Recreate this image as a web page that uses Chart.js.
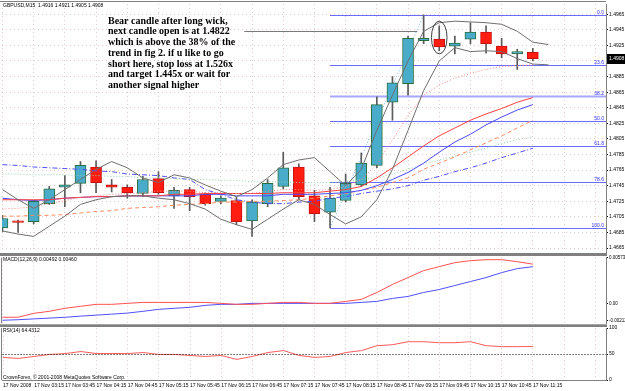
<!DOCTYPE html>
<html>
<head>
<meta charset="utf-8">
<script src="https://cdn.jsdelivr.net/npm/chart.js@4.4.0/dist/chart.umd.min.js"></script>
<style>
  html, body { margin: 0; padding: 0; background: #fff; }
  #wrap { position: relative; width: 625px; height: 391px; overflow: hidden; background: #fff; }
  #wrap canvas { position: absolute; left: 0; }
</style>
</head>
<body>
<div id="wrap">
  <canvas id="main" width="625" height="256" style="top:0"></canvas>
  <canvas id="macd" width="625" height="73" style="top:254px"></canvas>
  <canvas id="rsi" width="625" height="67" style="top:324px"></canvas>
</div>
<script>
// GBPUSD M15, 17 Nov 2008, bars 02:45 .. 11:15
const timeLabels = ['17 Nov 2008', '17 Nov 03:15', '17 Nov 03:45', '17 Nov 04:15', '17 Nov 04:45', '17 Nov 05:15',
  '17 Nov 05:45', '17 Nov 06:15', '17 Nov 06:45', '17 Nov 07:15', '17 Nov 07:45', '17 Nov 08:15', '17 Nov 08:45',
  '17 Nov 09:15', '17 Nov 09:45', '17 Nov 10:15', '17 Nov 10:45', '17 Nov 11:15'];

const opens  = [1.4691, 1.4700, 1.4699, 1.4722, 1.4743, 1.4748, 1.4769, 1.4746, 1.4743, 1.4735, 1.4754, 1.4732,
  1.4740, 1.4734, 1.4725, 1.4726, 1.4700, 1.4722, 1.4744, 1.4769, 1.4732, 1.4711, 1.4726, 1.4746, 1.4771, 1.4852,
  1.4876, 1.4931, 1.4933, 1.4924, 1.4933, 1.4942, 1.4924, 1.4914, 1.4916];
const highs  = [1.4707, 1.4701, 1.4726, 1.4744, 1.4758, 1.4776, 1.4777, 1.4753, 1.4746, 1.4757, 1.4763, 1.4743,
  1.4743, 1.4736, 1.4732, 1.4730, 1.4727, 1.4753, 1.4788, 1.4773, 1.4739, 1.4743, 1.4760, 1.4787, 1.4859, 1.4885,
  1.4937, 1.4964, 1.4950, 1.4937, 1.4954, 1.4950, 1.4934, 1.4920, 1.4921];
const lows   = [1.4686, 1.4685, 1.4696, 1.4721, 1.4718, 1.4736, 1.4736, 1.4737, 1.4729, 1.4731, 1.4734, 1.4716,
  1.4713, 1.4720, 1.4722, 1.4695, 1.4680, 1.4718, 1.4741, 1.4727, 1.4699, 1.4691, 1.4724, 1.4744, 1.4768, 1.4829,
  1.4861, 1.4927, 1.4918, 1.4914, 1.4927, 1.4915, 1.4909, 1.4894, 1.4905];
const closes = [1.4703, 1.4698, 1.4725, 1.4741, 1.4746, 1.4771, 1.4749, 1.4743, 1.4736, 1.4753, 1.4736, 1.4739,
  1.4731, 1.4722, 1.4729, 1.4699, 1.4724, 1.4748, 1.4768, 1.4731, 1.4709, 1.4729, 1.4748, 1.4774, 1.4849, 1.4877,
  1.4934, 1.4934, 1.4923, 1.4928, 1.4942, 1.4927, 1.4914, 1.4917, 1.4908];

// moving averages on the price panel
const maRedDotted = [1.4715, 1.4716, 1.4718, 1.4722, 1.4726, 1.4730, 1.4732, 1.4734, 1.4735, 1.4736, 1.4738, 1.4738,
  1.4738, 1.4736, 1.4736, 1.4735, 1.4735, 1.4738, 1.4740, 1.4740, 1.4739, 1.4740, 1.4744, 1.4753, 1.4772, 1.4804,
  1.4835, 1.4861, 1.4874, 1.4883, 1.4889, 1.4894, 1.4898, 1.4899, 1.4900];
const maRed = [1.4727, 1.4727, 1.4727, 1.4727, 1.4729, 1.4730, 1.4731, 1.4731, 1.4732, 1.4732, 1.4732, 1.4734,
  1.4734, 1.4735, 1.4735, 1.4735, 1.4735, 1.4735, 1.4736, 1.4736, 1.4736, 1.4738, 1.4740, 1.4744, 1.4755, 1.4768,
  1.4782, 1.4796, 1.4809, 1.4819, 1.4829, 1.4837, 1.4844, 1.4852, 1.4858];
const maBlue = [1.4729, 1.4727, 1.4726, 1.4727, 1.4729, 1.4730, 1.4731, 1.4731, 1.4732, 1.4732, 1.4732, 1.4732,
  1.4732, 1.4734, 1.4734, 1.4732, 1.4732, 1.4732, 1.4734, 1.4734, 1.4734, 1.4735, 1.4736, 1.4739, 1.4745, 1.4753,
  1.4762, 1.4774, 1.4788, 1.4801, 1.4811, 1.4823, 1.4833, 1.4842, 1.4849];
const maOrange = [1.4706, 1.4706, 1.4707, 1.4707, 1.4708, 1.4710, 1.4712, 1.4713, 1.4716, 1.4717, 1.4718, 1.4720,
  1.4721, 1.4722, 1.4724, 1.4724, 1.4725, 1.4725, 1.4726, 1.4727, 1.4729, 1.4732, 1.4735, 1.4739, 1.4743, 1.4749,
  1.4755, 1.4766, 1.4774, 1.4782, 1.4791, 1.4800, 1.4809, 1.4819, 1.4829];
const maGreen = [1.4760, 1.4760, 1.4759, 1.4759, 1.4759, 1.4758, 1.4758, 1.4757, 1.4757, 1.4755, 1.4755, 1.4754,
  1.4753, 1.4753, 1.4752, 1.4752, 1.4750, 1.4750, 1.4750, 1.4749, 1.4749, 1.4749, 1.4750, 1.4753, 1.4755, 1.4760,
  1.4766, 1.4773, 1.4778, 1.4783, 1.4788, 1.4793, 1.4799, 1.4804, 1.4808];
const maBlueDash = [1.4772, 1.4771, 1.4769, 1.4768, 1.4767, 1.4766, 1.4764, 1.4763, 1.4760, 1.4759, 1.4758, 1.4755,
  1.4753, 1.4740, 1.4734, 1.4727, 1.4724, 1.4722, 1.4722, 1.4724, 1.4725, 1.4729, 1.4731, 1.4735, 1.4738, 1.4741,
  1.4745, 1.4752, 1.4757, 1.4763, 1.4768, 1.4774, 1.4781, 1.4787, 1.4793];
// band lines (shifted one bar to the right)
const bandUpper = [1.4740, 1.4727, 1.4716, 1.4727, 1.4740, 1.4753, 1.4766, 1.4776, 1.4768, 1.4755, 1.4749, 1.4759,
  1.4755, 1.4746, 1.4738, 1.4731, 1.4740, 1.4755, 1.4772, 1.4778, 1.4781, 1.4763, 1.4745, 1.4766, 1.4816, 1.4861,
  1.4905, 1.4943, 1.4954, 1.4956, 1.4955, 1.4954, 1.4952, 1.4943, 1.4929, 1.4926];
const bandLower = [1.4687, 1.4683, 1.4680, 1.4693, 1.4706, 1.4721, 1.4727, 1.4731, 1.4732, 1.4732, 1.4729, 1.4727,
  1.4722, 1.4715, 1.4702, 1.4695, 1.4689, 1.4702, 1.4715, 1.4727, 1.4721, 1.4708, 1.4696, 1.4705, 1.4727, 1.4766,
  1.4816, 1.4867, 1.4905, 1.4922, 1.4917, 1.4918, 1.4917, 1.4908, 1.4901, 1.4900];

const priceTicks = [1.4665, 1.4685, 1.4705, 1.4725, 1.4745, 1.4765, 1.4785, 1.4805, 1.4825, 1.4845, 1.4865,
  1.4885, 1.4905, 1.4925, 1.4945, 1.4965];

// Fibonacci retracement from bar 21 low to bar 27 high
const fibBars = [21, 27];
const fibPrices = [1.4691, 1.4964];
const fibLevels = [0, 23.6, 38.2, 50, 61.8, 78.6, 100];
// hand drawn objects
const hLineBars = [15.5, 26.6];
const hLinePrice = 1.4943;
const ellipseBar = 28, ellipsePrice = 1.4935, ellipseHalfBars = 0.5, ellipseHalfPrice = 0.0021;
const noteLines = ['Bear candle after long wick,', 'next candle open is at 1.4822', 'which is above the 38% of the',
  'trend in fig 2. if u like to go', 'short here, stop loss at 1.526x', 'and target 1.445x or wait for',
  'another signal higher'];

// MACD(12,26,9)
const macdMain = [-0.00174, -0.00174, -0.00125, -0.00100, -0.00062, -0.00037, -0.00012, -0.00012, 0.00000, 0.00012,
  0.00012, 0.00012, 0.00012, 0.00012, 0.00000, -0.00012, -0.00012, 0.00000, 0.00012, 0.00012, 0.00000, 0.00000,
  0.00025, 0.00050, 0.00137, 0.00237, 0.00324, 0.00411, 0.00461, 0.00511, 0.00536, 0.00548, 0.00548, 0.00523, 0.00492];
const macdSignal = [-0.00212, -0.00205, -0.00195, -0.00185, -0.00175, -0.00160, -0.00148, -0.00135, -0.00122,
  -0.00100, -0.00075, -0.00062, -0.00050, -0.00025, -0.00012, -0.00012, 0.00000, 0.00000, 0.00000, 0.00000, 0.00000,
  0.00000, 0.00000, 0.00012, 0.00025, 0.00062, 0.00087, 0.00137, 0.00174, 0.00224, 0.00274, 0.00324, 0.00386,
  0.00436, 0.00460];
const macdTicks = [-0.00212, 0, 0.00573];

// RSI(14)
const rsiValues = [43.4, 41.5, 45.3, 49.1, 50.9, 54.7, 50.9, 50.9, 50.9, 52.8, 49.1, 49.1, 47.2, 45.3, 47.2, 39.6,
  45.3, 52.8, 56.6, 47.2, 43.4, 45.3, 52.8, 56.6, 66.0, 67.9, 73.6, 73.6, 71.7, 71.7, 73.6, 66.0, 64.2, 64.2, 64.4];
const rsiTicks = [0, 50, 100];

const xy = arr => arr.map((v, i) => ({x: i, y: v}));
const FONT = 'Liberation Sans';
const gridCol = 'rgba(205,160,160,0.55)';

const xScale = (showLabels) => ({
  type: 'linear', min: -0.03, max: 38.69, offset: false,
  afterBuildTicks: s => { s.ticks = []; for (let i = 0; i <= 38; i += 2) s.ticks.push({value: i}); },
  afterFit: s => { s.height = showLabels ? 11 : 0; },
  grid: {color: gridCol, drawTicks: false, offset: false},
  border: {display: showLabels, color: '#808080', dash: [1, 3]},
  ticks: {
    display: showLabels, autoSkip: false, maxRotation: 0, align: 'start', padding: 3,
    font: {family: FONT, size: 5}, color: '#000',
    callback: v => timeLabels[v / 2] || ''
  }
});

const yScale = (min, max, ticks, fmt, grid, size) => ({
  position: 'right', min: min, max: max,
  afterBuildTicks: s => { s.ticks = ticks.map(v => ({value: v})); },
  afterFit: s => { s.width = 19; },
  grid: {display: true, color: grid ? gridCol : 'rgba(0,0,0,0)', tickColor: '#000', tickLength: 2, tickBorderDash: []},
  border: {display: true, color: '#808080', dash: [1, 3]},
  ticks: {font: {family: FONT, size: size || 5}, color: '#000', padding: 1, callback: fmt}
});

function text(ctx, s, x, y, font, color, align) {
  ctx.save();
  ctx.font = font; ctx.fillStyle = color; ctx.textAlign = align || 'left'; ctx.textBaseline = 'middle';
  ctx.fillText(s, x, y);
  ctx.restore();
}

const mainOverlay = {
  id: 'mainOverlay',
  beforeDatasetsDraw(chart) {
    const {ctx, chartArea: a, scales: {x, y}} = chart;
    ctx.save();
    // fib lines
    const hi = fibPrices[1], lo = fibPrices[0];
    const x0 = x.getPixelForValue(fibBars[0]);
    fibLevels.forEach(l => {
      const py = Math.round(y.getPixelForValue(hi - (hi - lo) * l / 100)) + 0.5;
      ctx.strokeStyle = l === 38.2 ? '#a8a8ff' : '#6a6aff';
      ctx.lineWidth = l === 38.2 ? 2 : 1;
      ctx.beginPath(); ctx.moveTo(x0, py); ctx.lineTo(a.right, py); ctx.stroke();
      text(ctx, l.toFixed(1), a.right - 2, py - 3, '5px ' + FONT, '#3030ff', 'right');
    });
    ctx.strokeStyle = '#6fb7ff'; ctx.lineWidth = 1; ctx.setLineDash([1, 2]);
    ctx.beginPath();
    ctx.moveTo(x0, y.getPixelForValue(lo));
    ctx.lineTo(x.getPixelForValue(fibBars[1]), y.getPixelForValue(hi));
    ctx.stroke();
    ctx.restore();
  },
  afterDatasetsDraw(chart) {
    const {ctx, chartArea: a, scales: {x, y}} = chart;
    ctx.save();
    // gray horizontal line
    const hy = Math.round(y.getPixelForValue(hLinePrice)) + 0.5;
    ctx.strokeStyle = '#7a7a7a'; ctx.lineWidth = 1;
    ctx.beginPath(); ctx.moveTo(x.getPixelForValue(hLineBars[0]), hy); ctx.lineTo(x.getPixelForValue(hLineBars[1]), hy); ctx.stroke();
    // ellipse round the bear candle
    const cx = x.getPixelForValue(ellipseBar), cy = y.getPixelForValue(ellipsePrice);
    const rx = x.getPixelForValue(ellipseBar + ellipseHalfBars) - cx;
    const ry = cy - y.getPixelForValue(ellipsePrice + ellipseHalfPrice);
    ctx.strokeStyle = '#404040';
    ctx.beginPath(); ctx.ellipse(cx, cy, rx, ry, 0, 0, Math.PI * 2); ctx.stroke();
    // frame
    ctx.fillStyle = '#808080';
    ctx.fillRect(0, 1, a.right, 1);
    ctx.fillRect(0, a.bottom + 1, a.right + 1, 3);
    // current price box
    const cpy = Math.round(y.getPixelForValue(closes[closes.length - 1]));
    ctx.fillStyle = '#000';
    ctx.fillRect(a.right + 1, cpy - 5, 625 - a.right - 1, 10);
    text(ctx, closes[closes.length - 1].toFixed(4), a.right + 3, cpy, '5px ' + FONT, '#fff', 'left');
    // titles and note
    text(ctx, 'GBPUSD,M15  ' + [opens, highs, lows, closes].map(s => s[s.length - 1].toFixed(4)).join(' '),
      3, 6, '5px ' + FONT, '#000');
    noteLines.forEach((s, i) => text(ctx, s, 108, 21 + i * 10.78, 'bold 10px "Liberation Serif"', '#000'));
    ctx.restore();
  }
};

const panelOverlay = (title, sep, level) => ({
  id: 'panelOverlay',
  afterDatasetsDraw(chart) {
    const {ctx, chartArea: a, scales: {y}} = chart;
    ctx.save();
    if (level !== undefined) {
      const ly = Math.round(y.getPixelForValue(level)) + 0.5;
      ctx.strokeStyle = '#000'; ctx.lineWidth = 1; ctx.setLineDash([1, 2]);
      ctx.beginPath(); ctx.moveTo(a.left, ly); ctx.lineTo(a.right, ly); ctx.stroke();
      ctx.setLineDash([]);
    }
    ctx.fillStyle = '#808080';
    ctx.fillRect(1, a.top, 1, a.bottom - a.top);
    if (sep) ctx.fillRect(0, a.bottom + 1, a.right + 1, 3);
    title.forEach(t => text(ctx, t[0], 3, t[1], '5px ' + FONT, '#000'));
    ctx.restore();
  }
});

const line = (data, color, dash, order) => ({
  type: 'line', data: xy(data), borderColor: color, borderWidth: 1, borderDash: dash || [],
  pointRadius: 0, tension: 0, order: order || 1
});

new Chart(document.getElementById('main'), {
  type: 'line',
  data: {
    datasets: [
      line(bandUpper, '#6e6e6e'),
      line(bandLower, '#6e6e6e'),
      line(maRedDotted, '#ff8080', [1, 2]),
      line(maRed, '#ff4040'),
      line(maBlue, '#4848ff'),
      line(maOrange, '#ff8c60', [4, 3]),
      line(maGreen, '#8fd0a8', [1, 2]),
      line(maBlueDash, '#5050ff', [5, 2, 1, 2]),
      {
        type: 'bar', order: 5, grouped: false, barThickness: 11, borderWidth: 1, borderSkipped: false, minBarLength: 1,
        data: opens.map((o, i) => ({x: i, y: [o, closes[i]]})),
        backgroundColor: opens.map((o, i) => closes[i] >= o ? '#4aaccb' : '#ff1c10'),
        borderColor: opens.map((o, i) => closes[i] >= o ? '#2a6e3e' : '#c81010')
      },
      {
        type: 'bar', order: 6, grouped: false, barThickness: 1, borderWidth: 0,
        data: lows.map((l, i) => ({x: i, y: [l, highs[i]]})),
        backgroundColor: '#5a5a5a'
      }
    ]
  },
  options: {
    responsive: false, animation: false, devicePixelRatio: 1,
    layout: {padding: {left: 2, right: 0, top: 3, bottom: 3}},
    plugins: {legend: {display: false}, tooltip: {enabled: false}},
    scales: {
      x: xScale(false),
      y: yScale(1.4660, 1.4978, priceTicks, v => v.toFixed(4), true)
    }
  },
  plugins: [mainOverlay]
});

new Chart(document.getElementById('macd'), {
  type: 'line',
  data: {
    datasets: [
      line(macdMain, '#ff5050'),
      line(macdSignal, '#5050ff')
    ]
  },
  options: {
    responsive: false, animation: false, devicePixelRatio: 1,
    layout: {padding: {left: 2, right: 0, top: 3, bottom: 3}},
    plugins: {legend: {display: false}, tooltip: {enabled: false}},
    scales: {
      x: xScale(false),
      y: yScale(-0.0025, 0.00573, macdTicks, v => v === 0 ? '0.00' : v.toFixed(5), false, 4.5)
    }
  },
  plugins: [panelOverlay([['MACD(12,26,9) ' + macdMain[macdMain.length - 1].toFixed(5) + ' ' +
    macdSignal[macdSignal.length - 1].toFixed(5), 6]], true)]
});

new Chart(document.getElementById('rsi'), {
  type: 'line',
  data: {
    datasets: [line(rsiValues, '#ff5a5a')]
  },
  options: {
    responsive: false, animation: false, devicePixelRatio: 1,
    layout: {padding: {left: 2, right: 0, top: 3, bottom: 0}},
    plugins: {legend: {display: false}, tooltip: {enabled: false}},
    scales: {
      x: xScale(true),
      y: yScale(0, 100, rsiTicks, v => String(v), false)
    }
  },
  plugins: [panelOverlay([['RSI(14) 64.4312', 7],
    ['CrownForex, \u00a9 2001-2008 MetaQuotes Software Corp.', 54]], false, 50)]
});
</script>
</body>
</html>
